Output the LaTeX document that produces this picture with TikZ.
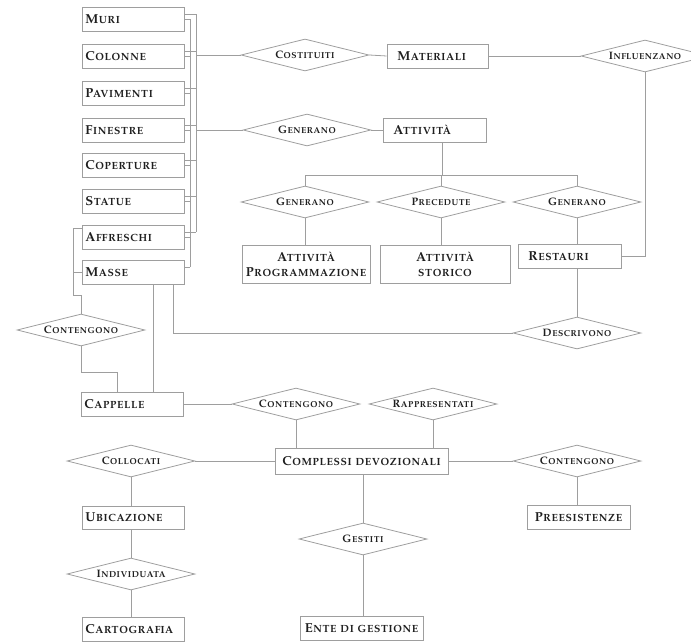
\documentclass[tikz,border=0pt]{standalone}
\usepackage[T1]{fontenc}
\usepackage{mathpazo}
\usetikzlibrary{shapes.geometric}
\tikzset{
  ln/.style={draw=black!38, line width=0.8pt},
  efont/.style={font=\fontsize{13}{15}\selectfont\bfseries\scshape, text=black!88},
  rfont/.style={font=\fontsize{10.8}{12}\selectfont\bfseries\scshape, text=black!88},
  ebox/.style={ln, rectangle, minimum height=24pt, inner ysep=0pt, efont},
  lbox/.style 2 args={text width=#1, inner xsep=#2, align=left},
  cbox/.style={minimum width=#1, inner xsep=0pt, align=center},
  rel/.style={ln, diamond, aspect=4, inner sep=0pt, minimum width=128pt, minimum height=32pt, rfont},
}
\begin{document}
\begin{tikzpicture}[x=1pt,y=-1pt]
\useasboundingbox (0,0) rectangle (691,642);
\clip (0,0) rectangle (691,642);
% left column entities
\node[ebox, lbox={96pt}{3pt}] (muri) at (133,19.5) {Muri};
\node[ebox, lbox={96pt}{3pt}] (colonne) at (133,56) {Colonne};
\node[ebox, lbox={96pt}{3pt}] (pavimenti) at (133,93) {Pavimenti};
\node[ebox, lbox={96pt}{3pt}] (finestre) at (133,130) {Finestre};
\node[ebox, lbox={96pt}{3pt}] (coperture) at (133,165) {Coperture};
\node[ebox, lbox={96pt}{3pt}] (statue) at (133,201) {Statue};
\node[ebox, lbox={96pt}{3pt}] (affreschi) at (133,237) {Affreschi};
\node[ebox, lbox={96pt}{3pt}] (masse) at (133,272) {Masse};
% other entities
\node[ebox, lbox={81pt}{10pt}] (materiali) at (437.5,56) {Materiali};
\node[ebox, lbox={83pt}{10pt}] (attivita) at (434.5,130) {Attività};
\node[ebox, cbox=128pt, minimum height=38pt] (attprog) at (306,264) {Attività\\Programmazione};
\node[ebox, cbox=130pt, minimum height=38pt] (attstor) at (445,264) {Attività\\storico};
\node[ebox, lbox={83pt}{10pt}] (restauri) at (569.5,256) {Restauri};
\node[ebox, lbox={96pt}{3pt}] (cappelle) at (132,404) {Cappelle};
\node[ebox, cbox=173pt, minimum height=26pt] (complessi) at (361.5,461) {Complessi devozionali};
\node[ebox, lbox={96pt}{3pt}, minimum height=23pt] (ubicazione) at (133,517.5) {Ubicazione};
\node[ebox, lbox={96pt}{3pt}] (cartografia) at (133,629) {Cartografia};
\node[ebox, cbox=103pt] (preesistenze) at (578.5,517) {Preesistenze};
\node[ebox, cbox=123pt] (ente) at (361.5,628) {Ente di gestione};
% relationships
\node[rel] (costituiti) at (305,55) {Costituiti};
\node[rel] (generanoA) at (307,130) {Generano};
\node[rel] (influenzano) at (645,56) {Influenzano};
\node[rel] (generanoB) at (305,202) {Generano};
\node[rel] (precedute) at (441,202) {Precedute};
\node[rel] (generanoC) at (577,202) {Generano};
\node[rel] (descrivono) at (577,333) {Descrivono};
\node[rel] (contengonoA) at (81,330) {Contengono};
\node[rel] (contengonoB) at (296,404) {Contengono};
\node[rel] (rappresentati) at (433,404) {Rappresentati};
\node[rel] (collocati) at (131,461) {Collocati};
\node[rel] (contengonoC) at (577,461) {Contengono};
\node[rel] (gestiti) at (363,539) {Gestiti};
\node[rel] (individuata) at (131,574) {Individuata};
% helper coordinates
\coordinate (busA) at (196,0);
\coordinate (busB) at (190,0);
\coordinate (hub) at (442,175);
\coordinate (kA) at (73,295);
\coordinate (kB) at (117,372);
% left bus
\foreach \n in {muri,colonne,pavimenti,finestre,coperture,statue,affreschi}{
  \draw[ln] ([yshift=5pt]\n.east) -- ([yshift=5pt]\n.east -| busA);
  \draw[ln] (\n.east) -- (\n.east -| busB);
}
\draw[ln] ([yshift=5pt]masse.east) -- ([yshift=5pt]masse.east -| busB);
\draw[ln] ([yshift=5pt]muri.east -| busA) -- ([yshift=5pt]affreschi.east -| busA);
\draw[ln] (muri.east -| busB) -- ([yshift=5pt]masse.east -| busB);
\draw[ln] (costituiti.west -| busA) -- (costituiti.west);
\draw[ln] (finestre.east -| busA) -- (generanoA.west);
% top relations
\draw[ln] (costituiti.east) -- (materiali.west);
\draw[ln] (materiali.east) -- (influenzano.west);
\draw[ln] (influenzano.south) |- (restauri.east);
\draw[ln] (generanoA.east) -- (attivita.west);
\draw[ln] (attivita.south -| hub) -- (hub);
\draw[ln] (generanoB.north) -- (generanoB.north |- hub) -- (generanoC.north |- hub) -- (generanoC.north);
\draw[ln] (precedute.north) -- (precedute.north |- hub);
\draw[ln] (generanoB.south) -- (generanoB.south |- attprog.north);
\draw[ln] (precedute.south) -- (precedute.south |- attstor.north);
\draw[ln] (generanoC.south) -- (generanoC.south |- restauri.north);
\draw[ln] (descrivono.north) -- (descrivono.north |- restauri.south);
\draw[ln] (descrivono.west) -| ([xshift=40pt]masse.south);
% left side
\draw[ln] ([yshift=9pt]affreschi.west) -| (kA) -| (contengonoA.north);
\draw[ln] (masse.west) -- (masse.west -| kA);
\draw[ln] (contengonoA.south) |- (kB) -- (kB |- cappelle.north);
\draw[ln] ([xshift=20pt]masse.south) -- ([xshift=20pt]masse.south |- cappelle.north);
% bottom part
\draw[ln] (cappelle.east) -- (contengonoB.west);
\draw[ln] (contengonoB.south) -- (contengonoB.south |- complessi.north);
\draw[ln] (rappresentati.south) -- (rappresentati.south |- complessi.north);
\draw[ln] (collocati.east) -- (complessi.west);
\draw[ln] (complessi.east) -- (contengonoC.west);
\draw[ln] (contengonoC.south) -- (contengonoC.south |- preesistenze.north);
\draw[ln] (gestiti.north) -- (gestiti.north |- complessi.south);
\draw[ln] (gestiti.south) -- (gestiti.south |- ente.north);
\draw[ln] (collocati.south) -- (collocati.south |- ubicazione.north);
\draw[ln] (individuata.north) -- (individuata.north |- ubicazione.south);
\draw[ln] (individuata.south) -- (individuata.south |- cartografia.north);
\end{tikzpicture}
\end{document}
